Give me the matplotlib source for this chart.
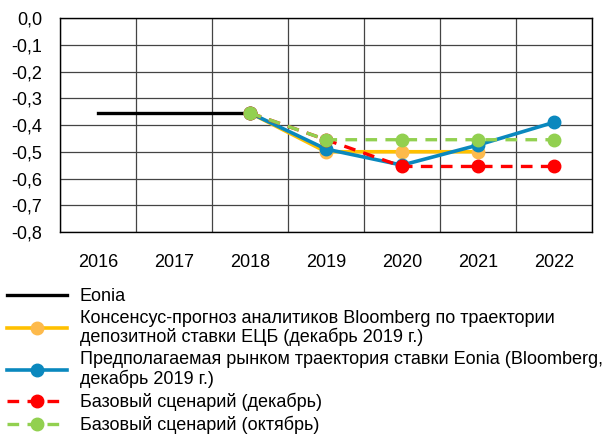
import numpy as np
import matplotlib
matplotlib.use('Agg')
import matplotlib.pyplot as plt

years = ['2016', '2017', '2018', '2019', '2020', '2021', '2022']
eonia = [-0.355, -0.355, -0.355, np.nan, np.nan, np.nan, np.nan]
consensus = [np.nan, np.nan, -0.355, -0.50, -0.50, -0.50, np.nan]
market = [np.nan, np.nan, -0.355, -0.49, -0.55, -0.475, -0.39]
base_dec = [np.nan, np.nan, -0.355, -0.455, -0.555, -0.555, -0.555]
base_oct = [np.nan, np.nan, -0.355, -0.455, -0.455, -0.455, -0.455]

labels = [
    'Eonia',
    'Консенсус-прогноз аналитиков Bloomberg по траектории\nдепозитной ставки ЕЦБ (декабрь 2019 г.)',
    'Предполагаемая рынком траектория ставки Eonia (Bloomberg,\nдекабрь 2019 г.)',
    'Базовый сценарий (декабрь)',
    'Базовый сценарий (октябрь)',
]

fig = plt.figure(figsize=(6.06, 4.36), dpi=100)
ax = fig.add_axes([60 / 606, 1 - 232 / 436, 532 / 606, 214 / 436])

x = np.arange(len(years))
l_eonia, = ax.plot(x, eonia, color='black', lw=2.4, zorder=3)
l_cons, = ax.plot(x, consensus, color='#FFC000', lw=2.6, marker='o', ms=9,
                  mfc='#FDBA4C', mec='#FDBA4C', zorder=3)
l_mkt, = ax.plot(x, market, color='#0A88BE', lw=2.6, marker='o', ms=9,
                 mfc='#0A88BE', mec='#0A88BE', zorder=4)
l_dec, = ax.plot(x, base_dec, color='#FF0000', lw=2.4, ls=(0, (3.5, 2.5)), marker='o', ms=9,
                 mfc='#FF0000', mec='#FF0000', zorder=5)
l_oct, = ax.plot(x, base_oct, color='#92D050', lw=2.4, ls=(0, (3.5, 2.5)), marker='o', ms=9,
                 mfc='#92D050', mec='#92D050', zorder=6)

ax.set_xlim(-0.5, len(years) - 0.5)
ax.set_ylim(-0.8, 0.0)
ax.set_xticks(x)
ax.set_xticklabels(years)
ax.set_xticks(np.arange(-0.5, len(years)), minor=True)
yt = np.round(np.arange(-0.8, 0.01, 0.1), 1)
ax.set_yticks(yt)
ax.set_yticklabels([f'{v:.1f}'.replace('.', ',').replace('-0,0', '0,0') for v in yt])
ax.tick_params(axis='both', which='both', length=0, labelsize=13)
ax.tick_params(axis='x', pad=16)
ax.tick_params(axis='y', pad=13)
for lab in ax.get_xticklabels() + ax.get_yticklabels():
    lab.set_fontfamily('Liberation Sans')
ax.grid(axis='y', which='major', color='#444444', lw=0.9)
ax.grid(axis='x', which='minor', color='#444444', lw=0.9)
ax.set_axisbelow(True)
for s in ax.spines.values():
    s.set_color('black')
    s.set_linewidth(1.0)

leg = fig.legend([l_eonia, l_cons, l_mkt, l_dec, l_oct], labels,
                 loc='upper left', bbox_to_anchor=(7 / 606, 1 - 288 / 436),
                 frameon=False, handlelength=3.3, handletextpad=0.72, labelspacing=0.27,
                 borderaxespad=0, borderpad=0.0,
                 prop={'family': 'Liberation Sans', 'size': 13})
for t in leg.get_texts():
    t.set_linespacing(1.08)

fig.savefig('out.png', dpi=100)
